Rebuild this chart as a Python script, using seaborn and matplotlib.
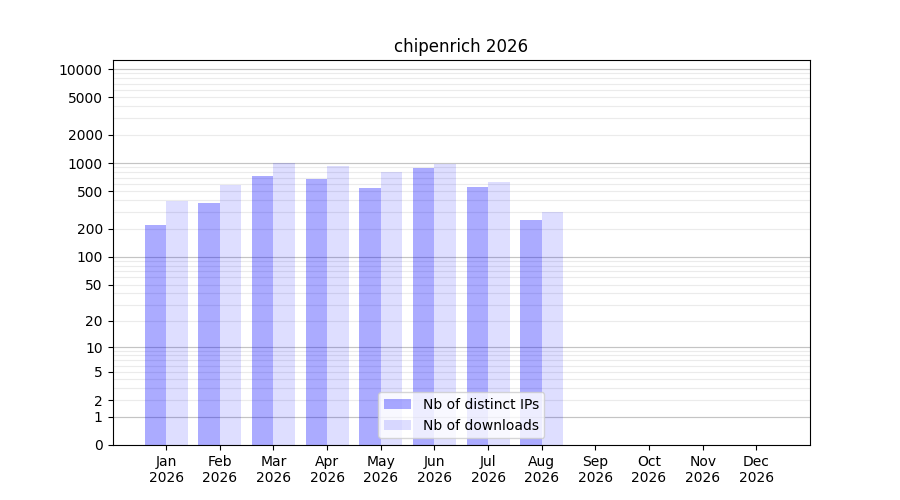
import matplotlib
matplotlib.use("Agg")
import matplotlib.pyplot as plt
import numpy as np
import pandas as pd
import seaborn as sns

# Données
months = ["Jan", "Feb", "Mar", "Apr", "May", "Jun", "Jul", "Aug", "Sep", "Oct", "Nov", "Dec"]
year = "2026"
distinct_ips = [218, 375, 727, 675, 541, 884, 555, 247]
downloads = [396, 587, 993, 929, 801, 983, 627, 300]

n = len(distinct_ips)
data = pd.DataFrame({
    "month": months[:n] * 2,
    "value": distinct_ips + downloads,
    "serie": ["Nb of distinct IPs"] * n + ["Nb of downloads"] * n,
})


def forward(y):
    return np.log10(1 + np.clip(y, 0, None))


def inverse(y):
    return 10 ** y - 1


fig, ax = plt.subplots(figsize=(9, 5), dpi=100)
sns.barplot(data=data, x="month", y="value", hue="serie", order=months,
            palette=["blue", "blue"], width=0.8, ax=ax, saturation=1)

# transparence différente pour chaque série
for container, alpha in zip(ax.containers, [0.33, 0.13]):
    for bar in container:
        bar.set_alpha(alpha)
        bar.set_edgecolor("none")
        bar.set_zorder(2)

ax.set_yscale("function", functions=(forward, inverse))
ax.set_ylim(0, 12500)
ax.set_xlim(-1, 12)

major = [0, 1, 2, 5, 10, 20, 50, 100, 200, 500, 1000, 2000, 5000, 10000]
minor = [m * 10 ** e for e in range(0, 5) for m in range(2, 10) if m * 10 ** e <= 12000]
ax.set_yticks(major)
ax.set_yticklabels([str(v) for v in major])
ax.set_yticks(minor, minor=True)
ax.tick_params(axis="y", which="minor", length=0)
ax.set_axisbelow(True)
ax.grid(axis="y", which="both", color="#ebebeb", linewidth=0.8, zorder=0.5)
for p in [1, 10, 100, 1000, 10000]:
    ax.axhline(p, color="#c4c4c4", linewidth=0.8, zorder=0.6)

ax.set_xticks(range(12))
ax.set_xticklabels([m + "\n" + year for m in months])
ax.set_xlabel("")
ax.set_ylabel("")
ax.set_title("chipenrich 2026")

leg = ax.legend(loc="lower center")
for h, alpha in zip(leg.legend_handles, [0.33, 0.13]):
    h.set_alpha(alpha)
    h.set_edgecolor("none")

plt.savefig("out.png", dpi=100)
